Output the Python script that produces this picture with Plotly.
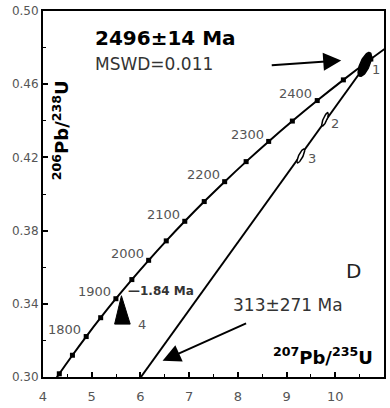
import numpy as np
import plotly.graph_objects as go

# Uranium decay constants (per Ma)
L238 = 1.55125e-4
L235 = 9.8485e-4

# Concordia ages (Ma), marked every 50 Ma
concordia_ages = [1650, 1700, 1750, 1800, 1850, 1900, 1950, 2000, 2050, 2100,
                  2150, 2200, 2250, 2300, 2350, 2400, 2450, 2500, 2550]
labelled_ages = [1800, 1900, 2000, 2100, 2200, 2300, 2400]

# Zircon analyses: 207Pb/235U, 206Pb/238U, error half-widths, error correlation
spot_ids = ["1", "2", "3"]
spot_x = [10.606, 9.790, 9.292]
spot_y = [0.4708, 0.4408, 0.4208]
spot_sx = [0.137, 0.069, 0.080]
spot_sy = [0.00655, 0.00366, 0.0038]
spot_rho = [0.66, 0.80, 0.80]

# Analysis 4 error envelope
spot4_x = [5.47, 5.61, 5.79]
spot4_y = [0.3289, 0.3444, 0.3289]

# Discordia chord
discordia_x = [6.01, 10.684]
discordia_y = [0.300, 0.4728]

upper_intercept = "2496±14 Ma"
mswd_text = "MSWD=0.011"
lower_intercept = "313±271 Ma"
min_age = "1.84 Ma"
panel = "D"

FONT = "DejaVu Sans"
GREY = "#555555"

t = np.array(concordia_ages, dtype=float)
con_x = np.exp(L235 * t) - 1
con_y = np.exp(L238 * t) - 1

fig = go.Figure()

# Concordia curve with age markers
fig.add_trace(go.Scatter(
    x=con_x, y=con_y, mode="lines+markers",
    line=dict(color="black", width=2, shape="spline"),
    marker=dict(symbol="square", size=5, color="black"),
    hoverinfo="skip", showlegend=False))

# Discordia
fig.add_trace(go.Scatter(
    x=discordia_x, y=discordia_y, mode="lines",
    line=dict(color="black", width=2),
    hoverinfo="skip", showlegend=False))

# Error ellipses
theta = np.linspace(0, 2 * np.pi, 73)
fills = ["black", "white", "white"]
for cx, cy, sx, sy, r, fc in zip(spot_x, spot_y, spot_sx, spot_sy, spot_rho, fills):
    ex = cx + sx * np.cos(theta)
    ey = cy + sy * (r * np.cos(theta) + np.sqrt(1 - r * r) * np.sin(theta))
    fig.add_trace(go.Scatter(
        x=ex, y=ey, mode="lines", fill="toself", fillcolor=fc,
        line=dict(color="black", width=1.5),
        hoverinfo="skip", showlegend=False))

fig.add_trace(go.Scatter(
    x=spot4_x + spot4_x[:1], y=spot4_y + spot4_y[:1], mode="lines",
    fill="toself", fillcolor="black", line=dict(color="black", width=1),
    hoverinfo="skip", showlegend=False))

ann = []
# Age labels along the concordia
for a in labelled_ages:
    i = concordia_ages.index(a)
    ann.append(dict(x=con_x[i], y=con_y[i], text=str(a), showarrow=False,
                    xanchor="right", yanchor="middle", xshift=-3, yshift=7,
                    font=dict(family=FONT, size=13, color=GREY)))

# Spot numbers
label_shift = [(11, -5), (10, -4), (11, -3)]
for sid, cx, cy, (dx, dy) in zip(spot_ids, spot_x, spot_y, label_shift):
    ann.append(dict(x=cx, y=cy, text=sid, showarrow=False, xanchor="center",
                    yanchor="middle", xshift=dx, yshift=dy,
                    font=dict(family=FONT, size=13, color=GREY)))
ann.append(dict(x=spot4_x[2], y=spot4_y[2], text="4", showarrow=False,
                xanchor="left", yanchor="middle", xshift=6, yshift=0,
                font=dict(family=FONT, size=13, color=GREY)))

ann += [
    dict(x=5.02, y=0.4852, text="<b>" + upper_intercept + "</b>", showarrow=False,
         xanchor="left", yanchor="middle",
         font=dict(family=FONT, size=20, color="black")),
    dict(x=5.02, y=0.4712, text=mswd_text, showarrow=False,
         xanchor="left", yanchor="middle",
         font=dict(family=FONT, size=17, color="#333333")),
    dict(x=7.85, y=0.3391, text=lower_intercept, showarrow=False,
         xanchor="left", yanchor="middle",
         font=dict(family=FONT, size=17, color="#333333")),
    dict(x=10.373, y=0.358, text=panel, showarrow=False,
         xanchor="center", yanchor="middle",
         font=dict(family=FONT, size=20, color="#222222")),
    dict(x=5.708, y=0.3471, text="<b>—" + min_age + "</b>", showarrow=False,
         xanchor="left", yanchor="middle",
         font=dict(family=FONT, size=12, color="#333333")),
    # axis titles
    dict(x=9.755, y=0.3115, text="<b><sup>207</sup>Pb/<sup>235</sup>U</b>",
         showarrow=False, xanchor="center", yanchor="middle",
         font=dict(family=FONT, size=18, color="black")),
    dict(x=4.367, y=0.4348, text="<b><sup>206</sup>Pb/<sup>238</sup>U</b>",
         showarrow=False, xanchor="center", yanchor="middle", textangle=-90,
         font=dict(family=FONT, size=18, color="black")),
    # arrows
    dict(x=10.122, y=0.4730, ax=-71, ay=5, text="", showarrow=True,
         arrowhead=2, arrowsize=1.8, arrowwidth=2, arrowcolor="black"),
    dict(x=6.455, y=0.3089, ax=85, ay=-38, text="", showarrow=True,
         arrowhead=2, arrowsize=1.8, arrowwidth=2, arrowcolor="black"),
]

fig.update_layout(
    width=390, height=408,
    margin=dict(l=43, r=4, t=11, b=30),
    paper_bgcolor="white", plot_bgcolor="white",
    annotations=ann,
    font=dict(family=FONT),
    xaxis=dict(range=[4, 11], tickmode="linear", tick0=4, dtick=1,
               ticks="inside", ticklen=5, tickwidth=1.5, tickcolor="black",
               minor=dict(ticks="inside", ticklen=3, dtick=0.5, tickwidth=1.2,
                          tickcolor="black"),
               showline=True, linecolor="black", linewidth=2, mirror=True,
               showgrid=False, zeroline=False, ticklabelstandoff=6,
               tickfont=dict(family=FONT, size=13, color=GREY)),
    yaxis=dict(range=[0.30, 0.50], tickmode="linear", tick0=0.30, dtick=0.04,
               tickformat=".2f",
               ticks="inside", ticklen=5, tickwidth=1.5, tickcolor="black",
               minor=dict(ticks="inside", ticklen=3, dtick=0.02, tickwidth=1.2,
                          tickcolor="black"),
               showline=True, linecolor="black", linewidth=2, mirror=True,
               showgrid=False, zeroline=False,
               tickfont=dict(family=FONT, size=12, color=GREY)),
)

fig.write_html("out.html")
